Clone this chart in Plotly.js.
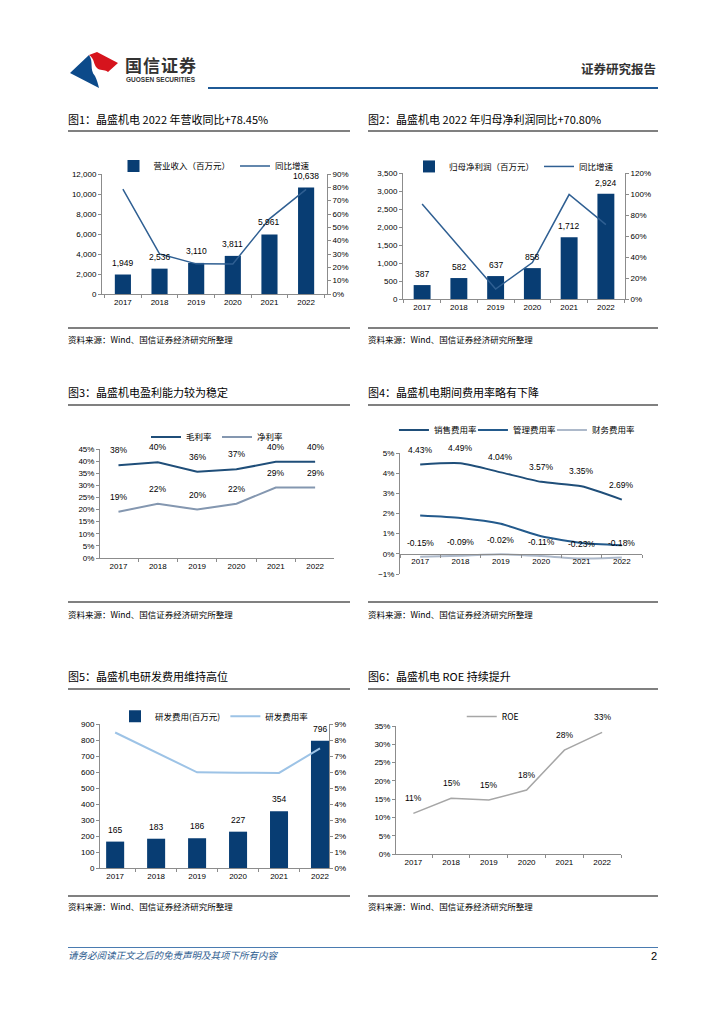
<!DOCTYPE html>
<html><head><meta charset="utf-8">
<script src="https://cdn.plot.ly/plotly-3.0.1.min.js"></script>
<style>
body{margin:0;background:#fff;}
#page{position:relative;width:724px;height:1024px;overflow:hidden;font-family:"Noto Sans CJK SC",sans-serif;background:#fff;}
.t{position:absolute;white-space:nowrap;line-height:1;}
.title{font-size:11px;color:#000;}
.src{font-size:8.5px;color:#000;}
.rule{position:absolute;height:1.5px;background:#808080;}
.chart{position:absolute;}
</style></head>
<body>
<div id="page">
  <svg class="t" style="left:68px;top:50px" width="60" height="40" viewBox="0 0 60 40">
    <path d="M2,23 L21,5 C26,12 21,19 27,26 C29,30 30,34 31,38 Z" fill="#0c4a8a"/>
    <path d="M21,5 L29,2 L50,13 L40,22 C36,19 32,21 29,18 C25,14 27,9 21,5 Z" fill="#d6141d"/>
  </svg>
  <div class="t" style="left:125px;top:56px;font-size:17px;font-weight:bold;color:#333;letter-spacing:1px;">国信证券</div>
  <div class="t" style="left:126px;top:77px;font-size:6.5px;font-weight:bold;color:#333;font-family:'Liberation Sans',Arial,sans-serif;">GUOSEN SECURITIES</div>
  <div class="t" style="left:208px;top:87px;width:450px;height:2px;background:#1f5a96;"></div>
  <div class="t" style="left:581px;top:63px;font-size:12.5px;font-weight:bold;color:#333;">证券研究报告</div>

  <div class="t title" style="left:68px;top:114px;">图1：晶盛机电 2022 年营收同比+78.45%</div>
  <div class="t title" style="left:368px;top:114px;">图2：晶盛机电 2022 年归母净利润同比+70.80%</div>
  <div class="rule" style="left:68px;top:130px;width:282px;"></div>
  <div class="rule" style="left:368px;top:130px;width:290px;"></div>
  <div id="c1" class="chart" style="left:60px;top:140px;"></div>
  <div id="c2" class="chart" style="left:360px;top:140px;"></div>
  <div class="rule" style="left:68px;top:327px;width:282px;"></div>
  <div class="rule" style="left:368px;top:327px;width:290px;"></div>
  <div class="t src" style="left:68px;top:335px;">资料来源：Wind、国信证券经济研究所整理</div>
  <div class="t src" style="left:368px;top:335px;">资料来源：Wind、国信证券经济研究所整理</div>

  <div class="t title" style="left:68px;top:387px;">图3：晶盛机电盈利能力较为稳定</div>
  <div class="t title" style="left:368px;top:387px;">图4：晶盛机电期间费用率略有下降</div>
  <div class="rule" style="left:68px;top:404px;width:282px;"></div>
  <div class="rule" style="left:368px;top:404px;width:290px;"></div>
  <div id="c3" class="chart" style="left:60px;top:410px;"></div>
  <div id="c4" class="chart" style="left:360px;top:410px;"></div>
  <div class="rule" style="left:68px;top:601px;width:282px;"></div>
  <div class="rule" style="left:368px;top:601px;width:290px;"></div>
  <div class="t src" style="left:68px;top:610px;">资料来源：Wind、国信证券经济研究所整理</div>
  <div class="t src" style="left:368px;top:610px;">资料来源：Wind、国信证券经济研究所整理</div>

  <div class="t title" style="left:68px;top:671px;">图5：晶盛机电研发费用维持高位</div>
  <div class="t title" style="left:368px;top:671px;">图6：晶盛机电 ROE 持续提升</div>
  <div class="rule" style="left:68px;top:688px;width:282px;"></div>
  <div class="rule" style="left:368px;top:688px;width:290px;"></div>
  <div id="c5" class="chart" style="left:60px;top:690px;"></div>
  <div id="c6" class="chart" style="left:360px;top:690px;"></div>
  <div class="rule" style="left:68px;top:895px;width:282px;"></div>
  <div class="rule" style="left:368px;top:895px;width:290px;"></div>
  <div class="t src" style="left:68px;top:902px;">资料来源：Wind、国信证券经济研究所整理</div>
  <div class="t src" style="left:368px;top:902px;">资料来源：Wind、国信证券经济研究所整理</div>

  <div class="t" style="left:68px;top:947px;width:590px;height:1px;background:#4a7bb0;"></div>
  <div class="t" style="left:68px;top:951px;font-size:9.5px;font-style:italic;color:#2e5c8f;">请务必阅读正文之后的免责声明及其项下所有内容</div>
  <div class="t" style="left:651px;top:951px;font-size:11px;color:#000;font-family:'Liberation Sans',Arial,sans-serif;">2</div>
</div>
<script>
const years = ['2017','2018','2019','2020','2021','2022'];
const revenue = [1949,2536,3110,3811,5961,10638];
const revenueGrowth = [78.6,30.1,22.6,22.5,56.4,78.45];
const netProfit = [387,582,637,858,1712,2924];
const netProfitGrowth = [90.4,50.4,9.5,34.7,99.5,70.8];
const grossMargin = [38.3,39.5,35.6,36.6,39.7,39.7];
const netMargin = [19.1,22.4,20.0,22.4,29.1,29.1];
const sellingRate = [4.43,4.49,4.04,3.57,3.35,2.69];
const adminRate = [1.90,1.78,1.49,0.87,0.54,0.43];
const financeRate = [-0.15,-0.09,-0.02,-0.11,-0.23,-0.18];
const rdExpense = [165,183,186,227,354,796];
const rdRate = [8.47,7.22,5.98,5.96,5.94,7.48];
const roe = [11.1,15.25,14.75,17.5,28.4,33.25];

const NUMF = '"Liberation Sans", Arial, sans-serif';
const CJKF = '"Noto Sans CJK SC", sans-serif';
const BAR = '#083d73';
const AX = '#8c8c8c';

function ax(extra){
  return Object.assign({showline:true, linecolor:AX, linewidth:1, ticks:'outside', ticklen:3, tickcolor:AX,
    showgrid:false, zeroline:false, fixedrange:true, tickfont:{size:8, family:NUMF, color:'#000'}}, extra);
}
function xax(range, extra){
  return ax(Object.assign({type:'category', range:range, tickson:'boundaries', ticklen:3}, extra||{}));
}
function dataLabels(ys, texts, yshift){
  return ys.map((v,i)=>({x:i, y:v, xref:'x', yref:'y', text:texts[i], showarrow:false, yshift:yshift,
    xanchor:'center', yanchor:'middle', font:{size:8.5, family:NUMF, color:'#000'}}));
}
function legendCfg(y, x, xanchor, extra){
  return Object.assign({orientation:'h', x:(x===undefined?0.5:x), xanchor:(xanchor||'center'), y:y, yanchor:'middle',
    font:{size:8.5, family:CJKF, color:'#000'}, bgcolor:'rgba(0,0,0,0)', itemwidth:30, tracegroupgap:0}, extra||{});
}
const cfg = {staticPlot:true, displayModeBar:false};
const comma = v => v.toLocaleString('en-US');
const pct0 = v => Math.round(v) + '%';
const pct2 = v => v.toFixed(2) + '%';
const clear = {paper_bgcolor:'rgba(0,0,0,0)', plot_bgcolor:'rgba(0,0,0,0)', showlegend:true};

// Chart 1
Plotly.newPlot('c1', [
  {type:'bar', x:years, y:revenue, name:'营业收入（百万元）', marker:{color:BAR}},
  {type:'scatter', mode:'lines', x:years, y:revenueGrowth, yaxis:'y2', name:'同比增速', line:{color:'#2f5f92', width:1.5}}
], Object.assign({
  width:300, height:180, margin:{l:42, r:33, t:17, b:26}, bargap:0.56,
  xaxis:xax([-0.57,5.57]),
  yaxis:ax({range:[0,12000], dtick:2000, tickformat:','}),
  yaxis2:ax({overlaying:'y', side:'right', range:[0,90], dtick:10, ticksuffix:'%'}),
  legend:legendCfg(1.066),
  annotations:dataLabels(revenue, revenue.map(comma), 12)
}, clear), cfg);

// Chart 2
Plotly.newPlot('c2', [
  {type:'bar', x:years, y:netProfit, name:'归母净利润（百万元）', marker:{color:BAR}},
  {type:'scatter', mode:'lines', x:years, y:netProfitGrowth, yaxis:'y2', name:'同比增速', line:{color:'#2f5f92', width:1.5}}
], Object.assign({
  width:300, height:180, margin:{l:43, r:35, t:20, b:21}, bargap:0.54,
  xaxis:xax([-0.52,5.52]),
  yaxis:ax({range:[0,3500], dtick:500, tickformat:','}),
  yaxis2:ax({overlaying:'y', side:'right', range:[0,120], dtick:20, ticksuffix:'%'}),
  legend:legendCfg(1.052),
  annotations:dataLabels(netProfit, netProfit.map(comma), 11)
}, clear), cfg);

// Chart 3
Plotly.newPlot('c3', [
  {type:'scatter', mode:'lines', x:years, y:grossMargin, name:'毛利率', line:{color:'#1f4e79', width:2}},
  {type:'scatter', mode:'lines', x:years, y:netMargin, name:'净利率', line:{color:'#8497b0', width:2}}
], Object.assign({
  width:300, height:170, margin:{l:40, r:26, t:27, b:22},
  xaxis:xax([-0.47,5.48]),
  yaxis:ax({range:[0,45], dtick:5, ticksuffix:'%'}),
  legend:legendCfg(1.11),
  annotations:dataLabels(grossMargin, grossMargin.map(pct0), 15).concat(dataLabels(netMargin, netMargin.map(pct0), 15))
}, clear), cfg);

// Chart 4
Plotly.newPlot('c4', [
  {type:'scatter', mode:'lines', x:years, y:sellingRate, name:'销售费用率', legendwidth:34, line:{color:'#1f4e79', width:2, shape:'spline', smoothing:0.6}},
  {type:'scatter', mode:'lines', x:years, y:adminRate, name:'管理费用率', legendwidth:34, line:{color:'#235a8c', width:2, shape:'spline', smoothing:0.6}},
  {type:'scatter', mode:'lines', x:years, y:financeRate, name:'财务费用率', legendwidth:48, line:{color:'#adb9ca', width:2, shape:'spline', smoothing:0.6}}
], Object.assign({
  width:300, height:170, margin:{l:40, r:18, t:43, b:6},
  xaxis:xax([-0.5,5.5], {anchor:'free', position:1/6}),
  yaxis:ax({range:[-1,5], dtick:1, ticksuffix:'%'}),
  legend:legendCfg(1.19, -0.025, 'left'),
  annotations:dataLabels(sellingRate, sellingRate.map(pct2), 15).concat(dataLabels(financeRate, financeRate.map(pct2), 14))
}, clear), cfg);

// Chart 5
Plotly.newPlot('c5', [
  {type:'bar', x:years, y:rdExpense, name:'研发费用(百万元)', marker:{color:BAR}},
  {type:'scatter', mode:'lines', x:years, y:rdRate, yaxis:'y2', name:'研发费用率', line:{color:'#9dc3e6', width:2}}
], Object.assign({
  width:300, height:200, margin:{l:40, r:31, t:22, b:22}, bargap:0.56,
  xaxis:xax([-0.37,5.22]),
  yaxis:ax({range:[0,900], dtick:100}),
  yaxis2:ax({overlaying:'y', side:'right', range:[0,9], dtick:1, ticksuffix:'%'}),
  legend:legendCfg(1.054),
  annotations:dataLabels(rdExpense, rdExpense.map(String), 12)
}, clear), cfg);

// Chart 6
Plotly.newPlot('c6', [
  {type:'scatter', mode:'lines', x:years, y:roe, name:'ROE', line:{color:'#a6a6a6', width:1.5}}
], Object.assign({
  width:300, height:200, margin:{l:36, r:39, t:24, b:36},
  xaxis:xax([-0.46,5.5]),
  yaxis:ax({range:[0,35], dtick:5, ticksuffix:'%'}),
  legend:legendCfg(1.074, 0.43),
  annotations:dataLabels(roe, roe.map(pct0), 15)
}, clear), cfg);
</script>
</body></html>
